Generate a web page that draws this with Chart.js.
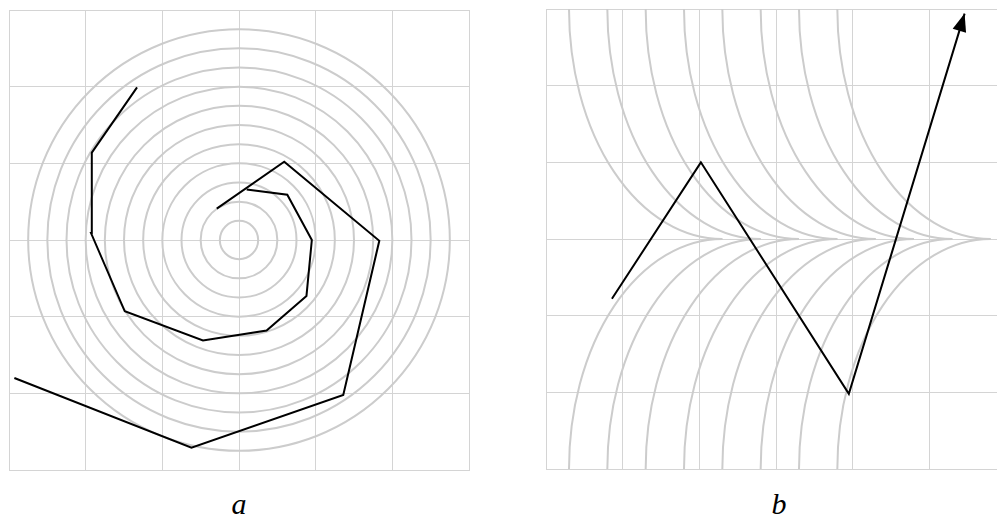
<!DOCTYPE html>
<html>
<head>
<meta charset="utf-8">
<script src="https://cdn.jsdelivr.net/npm/chart.js@4/dist/chart.umd.min.js"></script>
<style>
	html, body { margin: 0; padding: 0; background: #fff; overflow: hidden; width: 997px; height: 516px; }
	canvas { position: absolute; }
	#chart-a { left: 8px; top: 9px; }
	#chart-b { left: 545px; top: 8px; }
	.label {
		position: absolute;
		top: 489px;
		width: 60px;
		text-align: center;
		font: italic 30px/30px "Liberation Serif", "DejaVu Serif", serif;
		color: #000;
	}
</style>
</head>
<body>
<canvas id="chart-a" width="462" height="462"></canvas>
<canvas id="chart-b" width="462" height="462"></canvas>
<div class="label" style="left: 209px;">a</div>
<div class="label" style="left: 749px;">b</div>

<script>
// Panel a: concentric guide circles and the two spiral branches
const RADII = [0.25, 0.5, 0.75, 1, 1.25, 1.5, 1.75, 2, 2.25, 2.5, 2.75];

const INNER_X = [0.10, 0.63, 0.95, 0.88, 0.36, -0.47, -1.49, -1.93, -1.92, -1.33];
const INNER_Y = [0.66, 0.59, 0.00, -0.73, -1.18, -1.31, -0.93, 0.09, 1.14, 1.99];

const OUTER_X = [-0.29, 0.59, 1.83, 1.36, -0.62, -2.93];
const OUTER_Y = [0.41, 1.02, -0.01, -2.02, -2.71, -1.80];

// Panel b: guide arcs (left edge at top/bottom, cusp on the centre line) and the zigzag
const ARC_STARTS = [0.3, 0.8, 1.3, 1.8, 2.3, 2.8, 3.3, 3.8];
const ARC_WIDTH = 2;
const ARC_HEIGHT = 3;

const PATH_X = [0.86, 2.02, 3.95, 5.46];
const PATH_Y = [-0.78, 1.00, -2.02, 2.94];

const GRID_COLOR = "#d4d4d4";
const GUIDE_COLOR = "#cccccc";

const toPoints = (xs, ys) => xs.map((x, i) => ({ x: x, y: ys[i] }));

const lineDataset = (data) => ({
	data: data,
	showLine: true,
	borderColor: "#000",
	borderWidth: 2,
	pointRadius: 0,
	tension: 0,
	borderJoinStyle: "miter",
});

const axis = (min, max) => ({
	type: "linear",
	min: min,
	max: max,
	ticks: { display: false, stepSize: 1 },
	grid: { color: GRID_COLOR, lineWidth: 1, drawTicks: false },
	border: { color: GRID_COLOR, width: 1 },
});

const baseOptions = (xMin, xMax) => ({
	responsive: false,
	animation: false,
	devicePixelRatio: 1,
	layout: { padding: 1 },
	scales: {
		x: axis(xMin, xMax),
		y: axis(-3, 3),
	},
	plugins: {
		legend: { display: false },
		tooltip: { enabled: false },
	},
});

// circles drawn through the scales
const circlesPlugin = {
	id: "circles",
	beforeDatasetsDraw(chart) {
		const { ctx, chartArea, scales } = chart;
		const cx = scales.x.getPixelForValue(0);
		const cy = scales.y.getPixelForValue(0);
		ctx.save();
		ctx.beginPath();
		ctx.rect(chartArea.left, chartArea.top, chartArea.width, chartArea.height);
		ctx.clip();
		ctx.strokeStyle = GUIDE_COLOR;
		ctx.lineWidth = 2;
		RADII.forEach((r) => {
			const rx = scales.x.getPixelForValue(r) - cx;
			const ry = cy - scales.y.getPixelForValue(r);
			ctx.beginPath();
			ctx.ellipse(cx, cy, rx, ry, 0, 0, Math.PI * 2);
			ctx.stroke();
		});
		ctx.restore();
	},
};

// quarter arcs meeting in cusps on the centre line
const arcsPlugin = {
	id: "arcs",
	beforeDatasetsDraw(chart) {
		const { ctx, chartArea, scales } = chart;
		const yTop = scales.y.getPixelForValue(ARC_HEIGHT);
		const yBottom = scales.y.getPixelForValue(-ARC_HEIGHT);
		const ry = scales.y.getPixelForValue(0) - yTop;
		ctx.save();
		ctx.beginPath();
		ctx.rect(chartArea.left, chartArea.top, chartArea.width, chartArea.height);
		ctx.clip();
		ctx.strokeStyle = GUIDE_COLOR;
		ctx.lineWidth = 2;
		ARC_STARTS.forEach((s) => {
			const cx = scales.x.getPixelForValue(s + ARC_WIDTH);
			const rx = cx - scales.x.getPixelForValue(s);
			ctx.beginPath();
			ctx.ellipse(cx, yTop, rx, ry, 0, Math.PI / 2, Math.PI);
			ctx.stroke();
			ctx.beginPath();
			ctx.ellipse(cx, yBottom, rx, ry, 0, Math.PI, Math.PI * 1.5);
			ctx.stroke();
		});
		ctx.restore();
	},
};

// arrow head at the end of the zigzag
const arrowPlugin = {
	id: "arrow",
	afterDatasetsDraw(chart) {
		const pts = chart.getDatasetMeta(0).data;
		const tip = pts[pts.length - 1];
		const prev = pts[pts.length - 2];
		const angle = Math.atan2(tip.y - prev.y, tip.x - prev.x);
		const len = 18;
		const half = 7;
		const { ctx } = chart;
		ctx.save();
		ctx.translate(tip.x, tip.y);
		ctx.rotate(angle);
		ctx.fillStyle = "#000";
		ctx.beginPath();
		ctx.moveTo(0, 0);
		ctx.lineTo(-len, -half);
		ctx.lineTo(-len, half);
		ctx.closePath();
		ctx.fill();
		ctx.restore();
	},
};

new Chart(document.getElementById("chart-a"), {
	type: "scatter",
	data: {
		datasets: [
			lineDataset(toPoints(OUTER_X, OUTER_Y)),
			lineDataset(toPoints(INNER_X, INNER_Y)),
		],
	},
	options: baseOptions(-3, 3),
	plugins: [circlesPlugin],
});

new Chart(document.getElementById("chart-b"), {
	type: "scatter",
	data: {
		datasets: [lineDataset(toPoints(PATH_X, PATH_Y))],
	},
	options: baseOptions(0, 6),
	plugins: [arcsPlugin, arrowPlugin],
});
</script>
</body>
</html>
